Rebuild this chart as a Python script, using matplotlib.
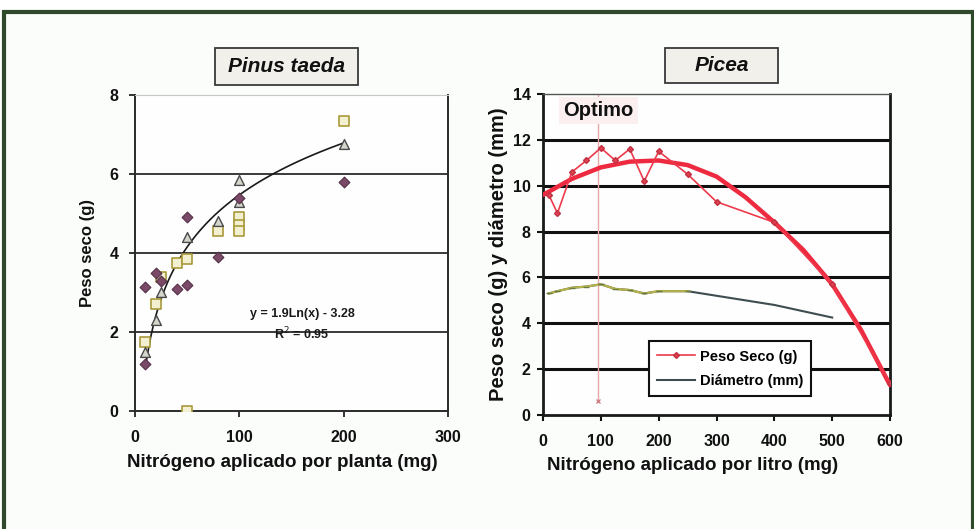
import numpy as np
import matplotlib
matplotlib.use("Agg")
import matplotlib.pyplot as plt
from matplotlib.patches import Rectangle

plt.rcParams['font.family'] = ['Liberation Sans', 'DejaVu Sans']

# ---- Pinus taeda (izquierda) ----
diam_x = [10, 10, 20, 25, 40, 50, 50, 80, 100, 200]
diam_y = [3.15, 1.2, 3.5, 3.3, 3.1, 4.9, 3.2, 3.9, 5.4, 5.8]
tri_x = [10, 20, 25, 50, 80, 100, 100, 200]
tri_y = [1.5, 2.3, 3.0, 4.4, 4.8, 5.85, 5.3, 6.75]
sq_x = [10, 20, 25, 40, 50, 50, 80, 100, 100, 100, 200]
sq_y = [1.75, 2.7, 3.4, 3.75, 3.85, 0.0, 4.55, 4.9, 4.7, 4.55, 7.35]
fit_a, fit_b = 1.9, -3.28          # y = 1.9 Ln(x) - 3.28
fit_range = (10, 200)

# ---- Picea (derecha) ----
peso_x = [10, 25, 50, 75, 100, 125, 150, 175, 200, 250, 300, 400, 500, 600]
peso_y = [9.6, 8.8, 10.6, 11.1, 11.65, 11.1, 11.6, 10.2, 11.5, 10.5, 9.3, 8.4, 5.7, 1.4]
curva_x = [0, 50, 100, 150, 200, 250, 300, 350, 400, 450, 500, 550, 600]
curva_y = [9.6, 10.3, 10.8, 11.05, 11.1, 10.9, 10.4, 9.5, 8.4, 7.2, 5.7, 3.7, 1.3]
diam2_x = [10, 25, 50, 75, 100, 125, 150, 175, 200, 250, 300, 400, 500]
diam2_y = [5.3, 5.4, 5.55, 5.6, 5.7, 5.5, 5.45, 5.3, 5.4, 5.4, 5.2, 4.8, 4.25]
optimo_x = 95

W, H = 974, 529
fig = plt.figure(figsize=(W / 100, H / 100), dpi=100)
fig.patch.set_facecolor('white')
# marco exterior verde
fig.patches.append(Rectangle((0.004, -0.01), 0.995, 0.987, transform=fig.transFigure,
                             facecolor='#fbfdfb', edgecolor='#2f4a2a', lw=3, zorder=-10))


def caja_titulo(x0, x1, y0, y1, texto):
    # caja gris del titulo, en pixeles de la figura
    fig.patches.append(Rectangle((x0 / W, 1 - y1 / H), (x1 - x0) / W, (y1 - y0) / H,
                                 transform=fig.transFigure, facecolor='#f1f0ea',
                                 edgecolor='#3a3a3a', lw=1.3, zorder=5))
    fig.text((x0 + x1) / 2 / W, 1 - (y0 + y1) / 2 / H, texto, ha='center', va='center',
             fontsize=15, fontweight='bold', style='italic', color='#111111', zorder=6)


# ========== panel izquierdo ==========
ax1 = fig.add_axes([0.1386, 0.2231, 0.3214, 0.5973])
ax1.set_facecolor('#fdfefd')
ax1.set_xlim(0, 300)
ax1.set_ylim(0, 8)
ax1.set_xticks([0, 100, 200, 300])
ax1.set_yticks([0, 2, 4, 6, 8])
for yv in [2, 4, 6]:
    ax1.axhline(yv, color='#3a3a3a', lw=1.4, zorder=1)
ax1.spines['top'].set_color('#c8c8c8')
ax1.spines['top'].set_linewidth(0.8)
for s in ['left', 'bottom', 'right']:
    ax1.spines[s].set_color('#2a2a2a')
    ax1.spines[s].set_linewidth(1.4)
ax1.tick_params(direction='out', length=4, width=1.2, labelsize=11.5, colors='#111111')
ax1.tick_params(axis='x', pad=10)
ax1.tick_params(axis='y', pad=8)
for lab in ax1.get_xticklabels() + ax1.get_yticklabels():
    lab.set_fontweight('bold')

xs = np.linspace(fit_range[0], fit_range[1], 200)
ax1.plot(xs, fit_a * np.log(xs) + fit_b, color='#1a1a1a', lw=1.2, zorder=3)
ax1.scatter(sq_x, sq_y, marker='s', s=55, facecolor='#f3f0d2', edgecolor='#a89a3a', lw=1.2, zorder=4)
ax1.scatter(tri_x, tri_y, marker='^', s=50, facecolor='#d4d6cc', edgecolor='#4a4a4a', lw=1.0, zorder=5)
ax1.scatter(diam_x, diam_y, marker='D', s=30, facecolor='#7a4a68', edgecolor='#553048', lw=0.8, zorder=6)

ax1.text(160, 2.45, 'y = 1.9Ln(x) - 3.28', ha='center', va='center', fontsize=9,
         fontweight='bold', color='#1a1a1a', zorder=7)
ax1.text(160, 1.95, 'R$^2$ = 0.95', ha='center', va='center', fontsize=9,
         fontweight='bold', color='#1a1a1a', zorder=7)

ax1.set_xlabel('Nitrógeno aplicado por planta (mg)', fontsize=13.5, fontweight='bold',
               labelpad=6, color='#111111')
ax1.xaxis.set_label_coords(0.47, -0.135)
ax1.set_ylabel('Peso seco (g)', fontsize=12, fontweight='bold', labelpad=10, color='#111111')

caja_titulo(215, 358, 48, 85, 'Pinus taeda')

# ========== panel derecho ==========
ax2 = fig.add_axes([0.5575, 0.2155, 0.3563, 0.6068])
ax2.set_facecolor('#fdfefd')
ax2.set_xlim(0, 600)
ax2.set_ylim(0, 14)
ax2.set_xticks([0, 100, 200, 300, 400, 500, 600])
ax2.set_yticks(range(0, 15, 2))
for yv in [2, 4, 6, 8, 10, 12]:
    ax2.axhline(yv, color='#111111', lw=2.2, zorder=1)
ax2.spines['top'].set_color('#555555')
ax2.spines['top'].set_linewidth(1.0)
for s in ['left', 'bottom', 'right']:
    ax2.spines[s].set_color('#1a1a1a')
    ax2.spines[s].set_linewidth(2.0)
ax2.tick_params(direction='out', length=4, width=1.5, labelsize=11.5, colors='#111111')
ax2.tick_params(axis='x', pad=10)
ax2.tick_params(axis='y', pad=5)
for lab in ax2.get_xticklabels() + ax2.get_yticklabels():
    lab.set_fontweight('bold')

ax2.plot([optimo_x, optimo_x], [0.6, 14], color='#e8a8a8', lw=1.0, zorder=2)
ax2.plot([optimo_x], [0.6], marker='x', ms=3, color='#d08080', zorder=2)

ax2.plot(curva_x, curva_y, color='#ee2a40', lw=3.2, zorder=3, solid_capstyle='round')
l1, = ax2.plot(peso_x, peso_y, color='#ee3a4c', lw=1.2, marker='D', ms=3,
               mfc='#e04050', mec='#c03040', zorder=4, label='Peso Seco (g)')
l2, = ax2.plot(diam2_x, diam2_y, color='#3e4d52', lw=1.5, zorder=4, label='Diámetro (mm)')
n_light = 10
ax2.plot(diam2_x[:n_light], diam2_y[:n_light], color='#b5b24a', lw=1.6, marker='_', ms=5,
         mec='#6a7a40', zorder=5)

ax2.text(35, 13.3, 'Optimo', ha='left', va='center', fontsize=14.5, fontweight='bold',
         color='#111111', zorder=6,
         bbox=dict(boxstyle='square,pad=0.2', facecolor='#fbeff0', edgecolor='none'))

leg = ax2.legend(handles=[l1, l2], loc='lower left', bbox_to_anchor=(0.285, 0.035),
                 fontsize=10.5, frameon=True, fancybox=False, handlelength=2.6,
                 borderpad=0.55, labelspacing=0.75, handletextpad=0.3)
leg.get_frame().set_edgecolor('#111111')
leg.get_frame().set_linewidth(1.5)
leg.get_frame().set_facecolor('white')
leg.get_frame().set_alpha(1)
for t in leg.get_texts():
    t.set_fontweight('bold')

ax2.set_xlabel('Nitrógeno aplicado por litro (mg)', fontsize=13.5, fontweight='bold',
               color='#111111')
ax2.xaxis.set_label_coords(0.43, -0.13)
ax2.set_ylabel('Peso seco (g) y diámetro (mm)', fontsize=14.5, fontweight='bold', labelpad=3,
               color='#111111')

caja_titulo(665, 778, 48, 83, 'Picea')

fig.savefig('out.png', dpi=100)
